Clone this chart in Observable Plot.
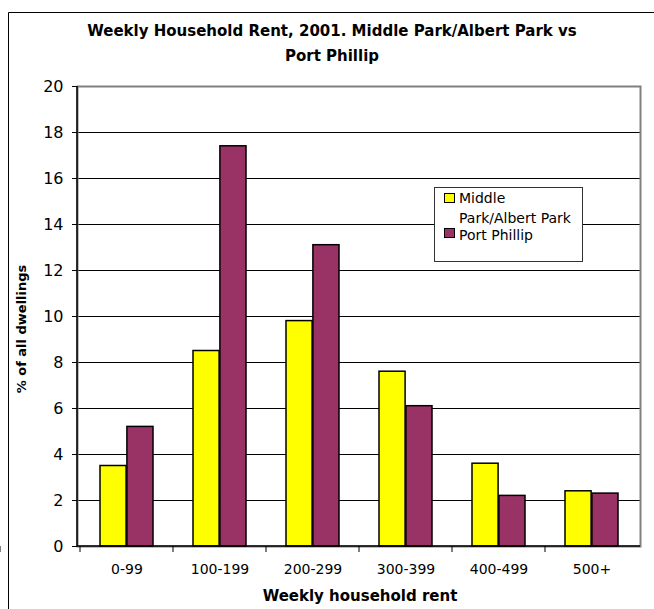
<!DOCTYPE html>
<html>
<head>
<meta charset="utf-8">
<script src="https://cdn.jsdelivr.net/npm/d3@7"></script>
<script src="https://cdn.jsdelivr.net/npm/@observablehq/plot@0.6"></script>
<style>
  html, body { margin: 0; padding: 0; background: #fff; overflow: hidden; }
  #wrap { position: relative; width: 654px; height: 609px; overflow: hidden; font-family: "DejaVu Sans", sans-serif; color: #000; }
  #chart { position: absolute; left: 0; top: 0; z-index: 1; }
  #title { position: absolute; left: 32px; width: 600px; top: 19px; text-align: center; font-weight: bold; font-size: 15px; line-height: 25px; z-index: 2; }
  #xlabel { position: absolute; left: 160px; width: 400px; top: 586px; text-align: center; font-weight: bold; font-size: 15px; line-height: 20px; z-index: 2; }
  #ylabel { position: absolute; left: 22px; top: 329px; transform: translate(-50%, -50%) rotate(-90deg); white-space: nowrap; font-weight: bold; font-size: 13px; line-height: 16px; z-index: 2; }
  #legend { position: absolute; left: 434px; top: 187px; width: 149px; height: 75px; border: 1px solid #333; background: #fff; box-sizing: border-box; z-index: 3; }
  .sw { position: absolute; width: 11px; height: 10px; border: 1.5px solid #000; box-sizing: border-box; }
  .lt { position: absolute; font-size: 14px; line-height: 20px; }
</style>
</head>
<body>
<div id="wrap">
  <div id="chart"></div>
  <div id="title"></div>
  <div id="xlabel"></div>
  <div id="ylabel"></div>
  <div id="legend"></div>
</div>
<script>
// ---- Data ----
const titleLines = ["Weekly Household Rent, 2001. Middle Park/Albert Park vs", "Port Phillip"];
const categories = ["0-99", "100-199", "200-299", "300-399", "400-499", "500+"];
const seriesNames = ["Middle Park/Albert Park", "Port Phillip"];
const middlePark = [3.5, 8.5, 9.8, 7.6, 3.6, 2.4];
const portPhillip = [5.2, 17.4, 13.1, 6.1, 2.2, 2.3];
const yTicks = [0, 2, 4, 6, 8, 10, 12, 14, 16, 18, 20];
const xTitle = "Weekly household rent";
const yTitle = "% of all dwellings";
const colors = ["#FFFF00", "#993366"];

const rows = categories.map((c, i) => ({cat: c, mp: middlePark[i], pp: portPhillip[i]}));

// custom render: outer chart-area border, axis lines and band-boundary ticks
function axisLines(index, scales, values, dimensions) {
  const {width, height, marginLeft, marginRight, marginTop, marginBottom} = dimensions;
  const g = d3.create("svg:g").attr("stroke", "#000").attr("fill", "none");
  g.append("path").attr("d", `M8.5,${height}V12.5H${width}`).attr("stroke-width", 1);
  const y0 = height - marginBottom;
  const x0 = marginLeft, x1 = width - marginRight;
  g.append("line").attr("x1", x0).attr("x2", x0).attr("y1", marginTop).attr("y2", y0).attr("stroke-width", 1.5);
  g.append("line").attr("x1", x0).attr("x2", x1).attr("y1", y0).attr("y2", y0).attr("stroke-width", 1.5);
  const bw = scales.x.bandwidth != null ? scales.x.bandwidth : (x1 - x0) / categories.length;
  const bounds = categories.map(c => scales.x(c)).concat([scales.x(categories[categories.length - 1]) + bw]);
  for (const b of bounds) {
    g.append("line").attr("x1", b).attr("x2", b).attr("y1", y0).attr("y2", y0 + 6).attr("stroke-width", 1);
  }
  return g.node();
}

const chart = Plot.plot({
  width: 654,
  height: 609,
  marginLeft: 77,
  marginRight: 14,
  marginTop: 86,
  marginBottom: 63,
  style: {fontFamily: "DejaVu Sans, sans-serif", color: "#000", background: "transparent"},
  x: {type: "band", domain: categories, padding: 0, label: null},
  y: {domain: [0, 20], label: null},
  marks: [
    Plot.gridY(yTicks.filter(t => t > 0 && t < 20), {stroke: "#000", strokeOpacity: 1, strokeWidth: 1}),
    Plot.frame({stroke: "#808080", strokeWidth: 2}),
    Plot.barY(rows, {x: "cat", y: "mp", fill: colors[0], stroke: "#000", strokeWidth: 1.5, insetLeft: 20, insetRight: 46.9}),
    Plot.barY(rows, {x: "cat", y: "pp", fill: colors[1], stroke: "#000", strokeWidth: 1.5, insetLeft: 46.9, insetRight: 20}),
    Plot.axisY({ticks: yTicks, tickSize: 5, tickPadding: 9, fontSize: 16, label: null, tickFormat: d => String(d)}),
    Plot.axisX({tickSize: 0, tickPadding: 18, fontSize: 14, label: null}),
    axisLines
  ]
});
document.getElementById("chart").appendChild(chart);

// texts
const t = document.getElementById("title");
titleLines.forEach((l, i) => { if (i) t.appendChild(document.createElement("br")); t.appendChild(document.createTextNode(l)); });
document.getElementById("xlabel").textContent = xTitle;
document.getElementById("ylabel").textContent = yTitle;

// legend
const lg = document.getElementById("legend");
const entries = [
  {sw: [9, 5], txt: [24, 0], w: 120},
  {sw: [9, 40], txt: [24, 37], w: 120}
];
seriesNames.forEach((name, i) => {
  const s = document.createElement("div");
  s.className = "sw";
  s.style.left = entries[i].sw[0] + "px";
  s.style.top = entries[i].sw[1] + "px";
  s.style.background = colors[i];
  lg.appendChild(s);
  const tx = document.createElement("div");
  tx.className = "lt";
  tx.style.left = entries[i].txt[0] + "px";
  tx.style.top = entries[i].txt[1] + "px";
  tx.style.width = entries[i].w + "px";
  tx.textContent = name;
  lg.appendChild(tx);
});
</script>
</body>
</html>
